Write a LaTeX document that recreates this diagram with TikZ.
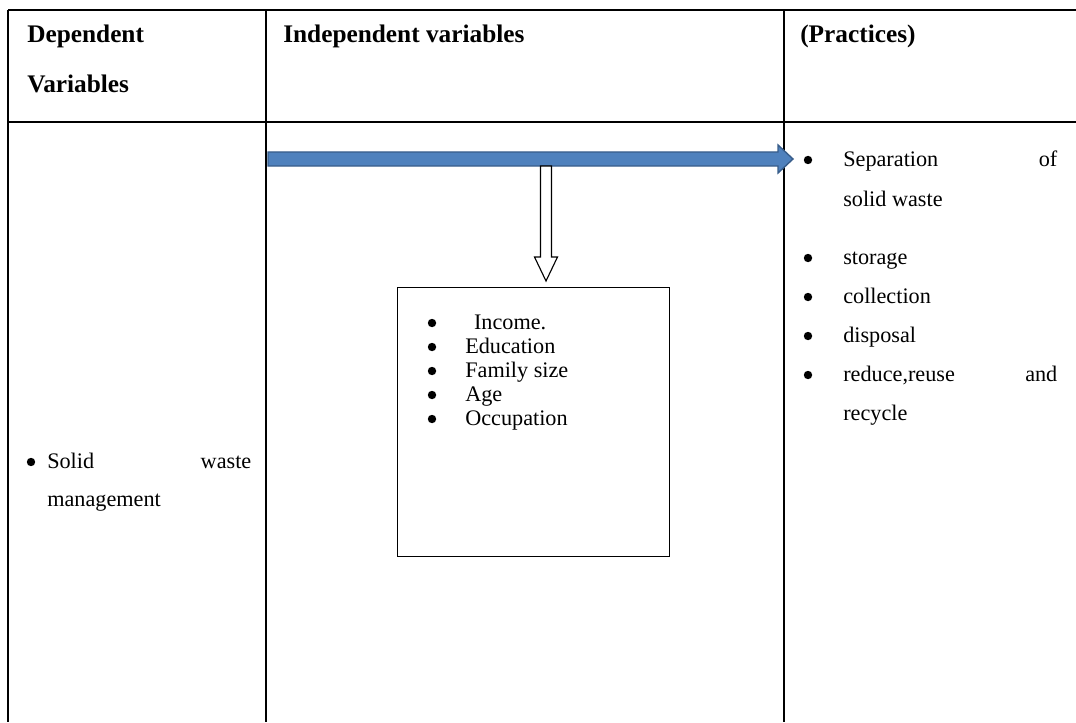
\documentclass[tikz,border=0pt]{standalone}
\usepackage{fontspec}
\setmainfont{Liberation Serif}
\usetikzlibrary{positioning,calc}
\definecolor{arrfill}{RGB}{79,129,189}
\definecolor{arrdraw}{RGB}{56,93,138}
\newcommand{\spreadline}[2]{\makebox[#1][s]{#2}}

\begin{document}
\begin{tikzpicture}[x=0.025cm, y=-0.025cm,
  every node/.style={inner sep=0pt, font=\fontsize{15.8}{19}\selectfont},
  head/.style={anchor=base west, font=\fontsize{18}{21}\selectfont\bfseries},
  txt/.style={anchor=base west},
  dot/.style={circle, fill=black, minimum size=0.21cm},
  rule/.style={line width=1.3pt},
  ]
\useasboundingbox (0,0) rectangle (1076,722);
% table rules
\coordinate (tl) at (8,10);
\coordinate (tr) at (1076,10);
\coordinate (hl) at (8,122);
\coordinate (hr) at (1076,122);
\draw[rule] (tl) -- (tr);
\draw[rule] (hl) -- (hr);
\foreach \x in {8,266,784}
  \draw[rule] (\x,10) -- (\x,722);

% headers
\node[head] (dep)    at (27,43)  {Dependent};
\node[head] (depvar) at (27,93)  {Variables};
\node[head] (indep)  at (283,43) {Independent variables};
\node[head] (prac)   at (800,43) {(Practices)};

% dependent column
\node[dot] (sb) at (31,462) {};
\node[txt] (sw1) at (47,468) {\spreadline{5.1cm}{Solid waste}};
\node[txt] (sw2) at (47,506) {management};

% factors box
\node[draw, line width=1pt, anchor=north west, minimum width=6.8cm,
      minimum height=6.72cm] (factors) at (397,287) {};
\foreach \t [count=\i] in {{\hspace{0.22cm}Income.},Education,Family size,Age,Occupation}{
  \node[dot] (fb\i) at (432,299+24*\i) {};
  \node[txt] (ft\i) at (465,305+24*\i) {\t};
}

% practices column
\node[dot] (pb1) at (808,160) {};
\node[txt] (pt1) at (843,166) {\spreadline{5.35cm}{Separation of}};
\node[txt] (pt1b) at (843,206) {solid waste};
\node[dot] (pb2) at (808,258) {};
\node[txt] (pt2) at (843,264) {storage};
\node[dot] (pb3) at (808,297) {};
\node[txt] (pt3) at (843,303) {collection};
\node[dot] (pb4) at (808,336) {};
\node[txt] (pt4) at (843,342) {disposal};
\node[dot] (pb5) at (808,375) {};
\node[txt] (pt5) at (843,381) {\spreadline{5.35cm}{reduce,reuse and}};
\node[txt] (pt5b) at (843,420) {recycle};

% block arrows
\coordinate (bstart) at (268,159);
\coordinate (btip) at (793,159);
\filldraw[fill=arrfill, draw=arrdraw, line width=1pt]
  ($(bstart)+(0,-7)$) -- ($(btip)+(-15,-7)$) -- ($(btip)+(-15,-14)$) -- (btip)
  -- ($(btip)+(-15,14)$) -- ($(btip)+(-15,7)$) -- ($(bstart)+(0,7)$) -- cycle;
\coordinate (dtop) at (546,166);
\coordinate (dtip) at ($(factors.north west)+(149,-6)$);
\draw[line width=0.8pt, fill=white]
  ($(dtop)+(-5.5,0)$) -- ($(dtip)+(-5.5,-24)$) -- ($(dtip)+(-11.5,-24)$) -- (dtip)
  -- ($(dtip)+(11.5,-24)$) -- ($(dtip)+(5.5,-24)$) -- ($(dtop)+(5.5,0)$) -- cycle;
\end{tikzpicture}
\end{document}
